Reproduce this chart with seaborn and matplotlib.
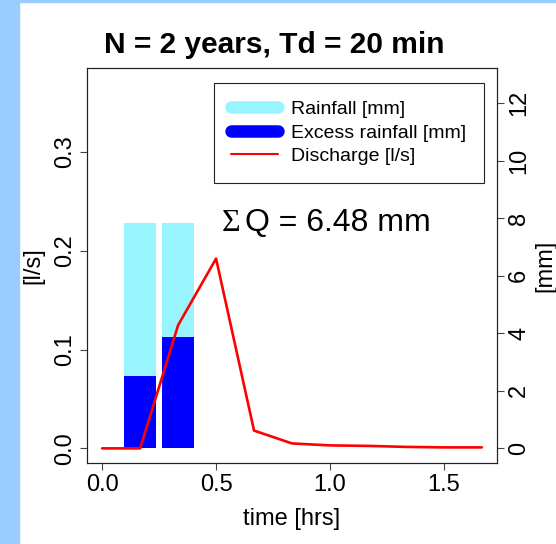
"""
Hydrograph: rainfall / excess rainfall bars with discharge line
N = 2 years, Td = 20 min
"""
import matplotlib
matplotlib.use('Agg')
import matplotlib.pyplot as plt
from matplotlib.lines import Line2D
from matplotlib.patches import Rectangle
import seaborn as sns

sns.set_theme(style="ticks")
plt.rcParams['font.family'] = ['Liberation Sans', 'DejaVu Sans']
plt.rcParams['text.color'] = 'black'
plt.rcParams['axes.labelcolor'] = 'black'
plt.rcParams['xtick.labelcolor'] = 'black'
plt.rcParams['ytick.labelcolor'] = 'black'

# ---- data ----
bar_time = [1/6, 2/6]                 # hrs, bar centres
rainfall = [7.83, 7.83]               # mm
excess_rainfall = [2.50, 3.86]        # mm

time_hrs = [0, 1/6, 2/6, 3/6, 4/6, 5/6, 1.0, 7/6, 8/6, 9/6, 10/6]
discharge = [0.0, 0.0, 0.1246, 0.192, 0.018, 0.005, 0.003, 0.0025, 0.0015, 0.001, 0.001]  # l/s

sum_q = 6.48
title = "N = 2 years, Td = 20 min"

x_range = (0, 10/6)
q_range = (0, 0.37)
mm_range = (0, 12.72)

c_rain = "#98F5FF"
c_excess = "#0000FF"
c_q = "#FF0000"


def padded(lo_hi, frac=0.04):
    lo, hi = lo_hi
    d = (hi - lo) * frac
    return lo - d, hi + d


W, H = 556, 544
fig = plt.figure(figsize=(W / 100, H / 100), dpi=100)
fig.patch.set_facecolor("white")
# light blue page border (left strip and thin top band)
fig.patches.append(Rectangle((0, 0), 19 / W, 1, transform=fig.transFigure,
                             color="#99CCFF", zorder=-1))
fig.patches.append(Rectangle((0, 1 - 2 / H), 1, 2 / H, transform=fig.transFigure,
                             color="#99CCFF", zorder=-1))

ax = fig.add_axes([87 / W, (H - 463) / H, (497 - 87) / W, (463 - 68) / H])
ax2 = ax.twinx()

# rainfall bars (right axis, mm)
sns.barplot(x=bar_time, y=rainfall, native_scale=True, color=c_rain, saturation=1,
            errorbar=None, width=0.85, linewidth=0, ax=ax)
sns.barplot(x=bar_time, y=excess_rainfall, native_scale=True, color=c_excess, saturation=1,
            errorbar=None, width=0.85, linewidth=0, ax=ax)
ax.set_ylim(*padded(mm_range))
ax.set_yticks([0, 2, 4, 6, 8, 10, 12])

# discharge (left axis, l/s)
sns.lineplot(x=time_hrs, y=discharge, color=c_q, lw=1.9, ax=ax2, legend=False)
ax2.set_ylim(*padded(q_range))
ax2.set_yticks([0.0, 0.1, 0.2, 0.3])
ax2.set_yticklabels(["0.0", "0.1", "0.2", "0.3"])
ax.set_xticks([0.0, 0.5, 1.0, 1.5])
ax.set_xticklabels(["0.0", "0.5", "1.0", "1.5"])
ax.set_xlim(*padded(x_range))

# swap sides: mm on the right, l/s on the left
ax.yaxis.tick_right()
ax.yaxis.set_label_position("right")
ax2.yaxis.tick_left()
ax2.yaxis.set_label_position("left")

for a in (ax, ax2):
    for s in a.spines.values():
        s.set_color("#222222")
        s.set_linewidth(0.8)
    a.tick_params(length=5, width=0.8, color="#444444", labelsize=17, pad=3)

ax.tick_params(axis="y", labelrotation=90)
ax2.tick_params(axis="y", labelrotation=90)
for lab in ax.get_yticklabels() + ax2.get_yticklabels():
    lab.set_va("center")

ax.set_xlabel("time [hrs]", fontsize=17)
ax.set_ylabel("[mm]", fontsize=17)
ax2.set_ylabel("[l/s]", fontsize=17)
ax.xaxis.set_label_coords(0.5, -0.115)
ax.yaxis.set_label_coords(1.09, 0.5)
ax2.yaxis.set_label_coords(-0.105, 0.5)

# legend
handles = [
    Line2D([], [], color=c_rain, lw=9, solid_capstyle="round"),
    Line2D([], [], color=c_excess, lw=9, solid_capstyle="round"),
    Line2D([], [], color=c_q, lw=1.5),
]
labels = ["Rainfall [mm]", "Excess rainfall [mm]", "Discharge [l/s]"]
leg = ax2.legend(handles, labels, loc="upper right",
                 bbox_to_anchor=(484 / W, 1 - 83 / H), bbox_transform=fig.transFigure,
                 fontsize=14, frameon=True, fancybox=False, edgecolor="#222222",
                 framealpha=1, handlelength=2.4, handletextpad=0.7,
                 labelspacing=0.3, borderpad=0.9, borderaxespad=0)
leg.get_frame().set_linewidth(0.8)

# sum of discharge
ax2.text(0.525, 0.22, "Σ", fontsize=23, family=["Liberation Serif", "DejaVu Serif"],
         va="baseline", ha="left")
ax2.annotate(f"Q = {sum_q:.2f} mm", xy=(0.525, 0.22), xytext=(17, 0),
             textcoords="offset points", fontsize=23, va="baseline", ha="left")

fig.text(274 / W, 1 - 53 / H, title, fontsize=21.5, fontweight="bold",
         ha="center", va="baseline")

fig.savefig("out.png", dpi=100)
